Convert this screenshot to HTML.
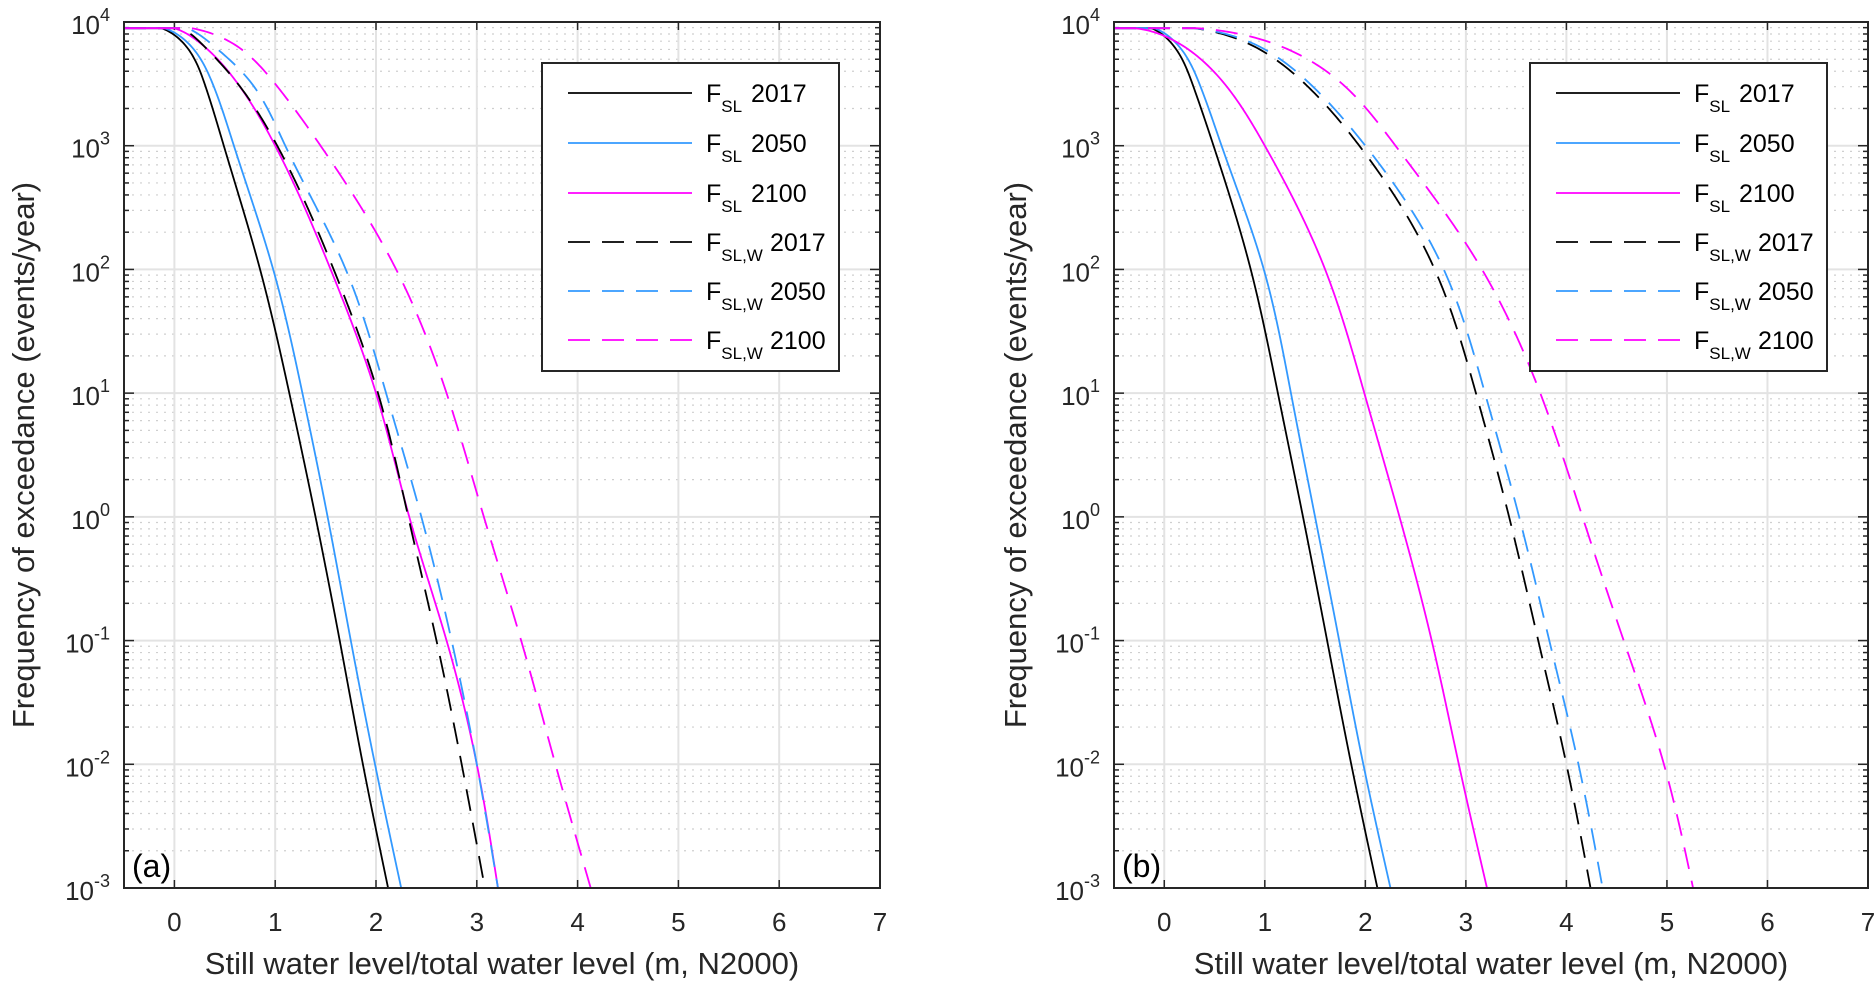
<!DOCTYPE html>
<html><head><meta charset="utf-8"><style>
body{margin:0;background:#fff;}
svg{display:block;font-family:"Liberation Sans",Arial,sans-serif;}
</style></head><body>
<svg id="fig" width="1874" height="987" viewBox="0 0 1874 987"></svg>
<script>
const levels = [3.95, 3.8, 3.5, 3, 2, 1, 0, -1, -2, -3];
const panelA_S17 = [-0.13,0.12,0.3,0.49,0.85,1.14,1.4,1.64,1.87,2.12];
const panelA_S50 = [-0.1,0.17,0.38,0.59,0.98,1.27,1.52,1.75,1.99,2.25];
const panelA_S100 = [0.0,0.3,0.63,1.0,1.55,2.0,2.33,2.7,3.0,3.21];
const panelA_W17 = [0.07,0.3,0.63,1.02,1.58,2.02,2.32,2.6,2.85,3.08];
const panelA_W50 = [0.13,0.4,0.77,1.1,1.7,2.1,2.45,2.75,3.0,3.21];
const panelA_W100 = [0.17,0.63,1.0,1.45,2.2,2.7,3.07,3.44,3.78,4.13];
const panelB_S17 = [-0.13,0.1,0.28,0.49,0.86,1.13,1.38,1.62,1.86,2.12];
const panelB_S50 = [-0.1,0.15,0.35,0.57,0.99,1.26,1.5,1.74,1.98,2.25];
const panelB_S100 = [-0.3,0.2,0.6,1.0,1.6,1.99,2.34,2.66,2.93,3.21];
const panelB_W17 = [0.3,0.9,1.4,1.94,2.69,3.1,3.43,3.72,4.0,4.24];
const panelB_W50 = [0.3,0.95,1.45,2.0,2.78,3.19,3.53,3.83,4.12,4.36];
const panelB_W100 = [0.33,1.17,1.77,2.3,3.16,3.74,4.16,4.57,4.97,5.26];
const xTicks = [0,1,2,3,4,5,6,7];
const yExps = [4,3,2,1,0,-1,-2,-3];

const NS="http://www.w3.org/2000/svg";
const svg=document.getElementById('fig');
function mk(tag,attrs,parent){const e=document.createElementNS(NS,tag);for(const k in attrs)e.setAttribute(k,attrs[k]);(parent||svg).appendChild(e);return e;}

const styles=[
 {c:"#000000",d:null},{c:"#3399ff",d:null},{c:"#ff00ff",d:null},
 {c:"#000000",d:"22,12"},{c:"#3399ff",d:"22,12"},{c:"#ff00ff",d:"22,12"}];

function natural(t,v){
  const n=t.length,h=[],a=[],l=[1],mu=[0],z=[0],c=new Array(n).fill(0),b=[],d=[];
  for(let i=0;i<n-1;i++)h.push(t[i+1]-t[i]);
  for(let i=1;i<n-1;i++)a[i]=3/h[i]*(v[i+1]-v[i])-3/h[i-1]*(v[i]-v[i-1]);
  for(let i=1;i<n-1;i++){l[i]=2*(t[i+1]-t[i-1])-h[i-1]*mu[i-1];mu[i]=h[i]/l[i];z[i]=(a[i]-h[i-1]*z[i-1])/l[i];}
  c[n-1]=0;for(let j=n-2;j>=1;j--)c[j]=z[j]-mu[j]*c[j+1];c[0]=0;
  for(let j=0;j<n-1;j++){b[j]=(v[j+1]-v[j])/h[j]-h[j]*(c[j+1]+2*c[j])/3;d[j]=(c[j+1]-c[j])/(3*h[j]);}
  return s=>{let j=0;while(j<n-2&&s>t[j+1])j++;const dx=s-t[j];return v[j]+b[j]*dx+c[j]*dx*dx+d[j]*dx*dx*dx;};
}

function panel(L,R,T,B,data,label,ylabX,legX){
  const xmin=-0.5,xmax=7,ymin=-3,ymax=4;
  const sx=v=>L+(v-xmin)/(xmax-xmin)*(R-L);
  const sy=v=>B-(v-ymin)/(ymax-ymin)*(B-T);
  const g=mk('g',{});
  
  
  for(let e=-3;e<4;e++){for(let m=2;m<=9;m++){const y=sy(e+Math.log10(m));
    const l=mk('line',{x1:L,x2:R,y1:y,y2:y,stroke:'#cfcfcf','stroke-width':1.2,'stroke-dasharray':'2,6'},g);
    
    mk('line',{x1:L,x2:L+5,y1:y,y2:y,stroke:'#262626','stroke-width':1.5},g);
    mk('line',{x1:R,x2:R-5,y1:y,y2:y,stroke:'#262626','stroke-width':1.5},g);}}
  xTicks.forEach(t=>{const x=sx(t);
    const l=mk('line',{x1:x,x2:x,y1:T,y2:B,stroke:'#e3e3e3','stroke-width':2},g);
    
    mk('line',{x1:x,x2:x,y1:B,y2:B-8,stroke:'#262626','stroke-width':1.5},g);
    mk('line',{x1:x,x2:x,y1:T,y2:T+8,stroke:'#262626','stroke-width':1.5},g);
    const tx=mk('text',{x:x,y:B+43,'font-size':26,'text-anchor':'middle',fill:'#262626'},g);
    tx.textContent=t;
    });
  yExps.forEach(e=>{const y=sy(e);
    const l=mk('line',{x1:L,x2:R,y1:y,y2:y,stroke:'#e3e3e3','stroke-width':2},g);
    
    mk('line',{x1:L,x2:L+10,y1:y,y2:y,stroke:'#262626','stroke-width':1.5},g);
    mk('line',{x1:R,x2:R-10,y1:y,y2:y,stroke:'#262626','stroke-width':1.5},g);
    const tx=mk('text',{x:L-14,y:y+12,'font-size':26,'text-anchor':'end',fill:'#262626'},g);
    
    const t1=mk('tspan',{},tx);t1.textContent='10';
    const t2=mk('tspan',{dy:-13,'font-size':18},tx);t2.textContent=String(e);});
  data.forEach((xs,i)=>{
    const pts=[[sx(-0.5),sy(levels[0])]].concat(xs.map((x,j)=>[sx(x),sy(levels[j])]));
    const ts=[0];
    for(let k=1;k<pts.length;k++)ts.push(ts[k-1]+Math.max(1,Math.hypot(pts[k][0]-pts[k-1][0],pts[k][1]-pts[k-1][1])));
    const fx=natural(ts,pts.map(p=>p[0])),fy=natural(ts,pts.map(p=>p[1]));
    const tot=ts[ts.length-1];
    let d='M'+pts[0][0]+','+pts[0][1];
    for(let s=2;s<tot;s+=2){d+=' L'+fx(s).toFixed(2)+','+Math.max(sy(levels[0]),fy(s)).toFixed(2);}
    d+=' L'+pts[pts.length-1][0]+','+pts[pts.length-1][1];
    const a={d:d,fill:'none',stroke:styles[i].c,'stroke-width':1.8};
    if(styles[i].d)a['stroke-dasharray']=styles[i].d;
    const p=mk('path',a,g);
    
    });
  const fr=mk('rect',{x:L,y:T,width:R-L,height:B-T,fill:'none',stroke:'#262626','stroke-width':2},g);
  
  const pl=mk('text',{x:L+8,y:B-11,'font-size':32,fill:'#000'},g);
  pl.textContent='('+label+')';
  
  const xl=mk('text',{x:(L+R)/2,y:B+86,'font-size':31,'text-anchor':'middle',fill:'#262626'},g);
  xl.textContent='Still water level/total water level (m, N2000)';
  
  const yl=mk('text',{x:0,y:0,'font-size':31,'text-anchor':'middle',fill:'#262626',transform:'translate('+ylabX+','+((T+B)/2)+') rotate(-90)'},g);
  yl.textContent='Frequency of exceedance (events/year)';
  
  const lg=mk('g',{},g);
  
  mk('rect',{x:legX,y:63,width:297,height:308,fill:'#fff',stroke:'#262626','stroke-width':2},lg);
  const rows=[93,143,193,242,291,340];
  const subs=['SL','SL','SL','SL,W','SL,W','SL,W'];
  const yrs=['2017','2050','2100','2017','2050','2100'];
  rows.forEach((y,i)=>{
    const e=mk('g',{},lg);
    
    const a={x1:legX+26,x2:legX+150,y1:y,y2:y,stroke:styles[i].c,'stroke-width':1.8};
    if(styles[i].d)a['stroke-dasharray']=styles[i].d;
    mk('line',a,e);
    const t=mk('text',{x:legX+164,y:y+9,'font-size':25,fill:'#000'},e);
    const f=mk('tspan',{},t);f.textContent='F';
    const s=mk('tspan',{dy:10,'font-size':17},t);s.textContent=subs[i];
    const yv=mk('tspan',{dy:-10,x:legX+(i<3?209:228)},t);yv.textContent=yrs[i];});
}
panel(124,880,22,888,[panelA_S17,panelA_S50,panelA_S100,panelA_W17,panelA_W50,panelA_W100],'a',34,542);
panel(1114,1868,22,888,[panelB_S17,panelB_S50,panelB_S100,panelB_W17,panelB_W50,panelB_W100],'b',1026,1530);
</script>
</body></html>
